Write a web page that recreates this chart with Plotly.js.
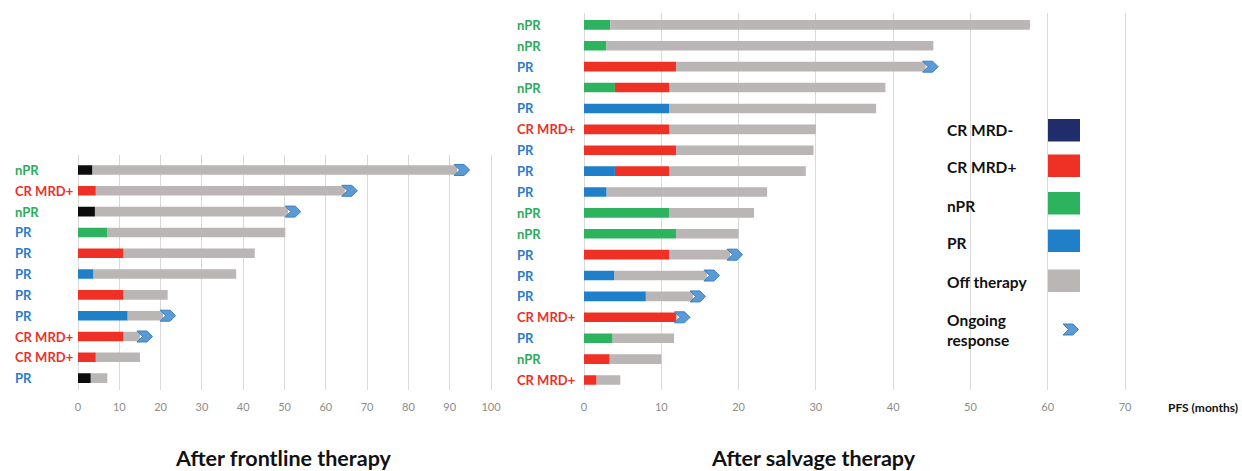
<!DOCTYPE html>
<html><head><meta charset="utf-8">
<script src="https://cdn.plot.ly/plotly-3.0.1.min.js"></script>
<style>html,body{margin:0;padding:0;background:#fff}#chart{width:1242px;height:471px}</style>
</head><body><div id="chart"></div>
<script>
// ---------- Data: After frontline therapy (top to bottom) ----------
const frontLabels   = ['nPR','CR MRD+','nPR','PR','PR','PR','PR','PR','CR MRD+','CR MRD+','PR'];
const frontStatus1  = ['Black','CR MRD+','Black','nPR','CR MRD+','PR','CR MRD+','PR','CR MRD+','CR MRD+','Black'];
const frontEnd1     = [3.5, 4.3, 4.1, 7.1, 11, 3.7, 11, 12, 11, 4.3, 3.1];
const frontStatus2  = [null,null,null,null,null,null,null,null,null,null,null];
const frontEnd2     = [null,null,null,null,null,null,null,null,null,null,null];
const frontPFS      = [91.8, 64.6, 50.9, 50.2, 42.8, 38.3, 21.7, 20.6, 15.0, 15.0, 7.1];
const frontOngoing  = [true,true,true,false,false,false,false,true,true,false,false];

// ---------- Data: After salvage therapy (top to bottom) ----------
const salvLabels    = ['nPR','nPR','PR','nPR','PR','CR MRD+','PR','PR','PR','nPR','nPR','PR','PR','PR','CR MRD+','PR','nPR','CR MRD+'];
const salvStatus1   = ['nPR','nPR','CR MRD+','nPR','PR','CR MRD+','CR MRD+','PR','PR','nPR','nPR','CR MRD+','PR','PR','CR MRD+','nPR','CR MRD+','CR MRD+'];
const salvEnd1      = [3.4, 2.9, 11.9, 4.0, 11, 11, 11.9, 4.0, 2.9, 11, 11.9, 11, 3.9, 8.0, 11.9, 3.7, 3.3, 1.6];
const salvStatus2   = [null,null,null,'CR MRD+',null,null,null,'CR MRD+',null,null,null,null,null,null,null,null,null,null];
const salvEnd2      = [null,null,null,11.0,null,null,null,11.0,null,null,null,null,null,null,null,null,null,null];
const salvPFS       = [57.7, 45.2, 44.2, 39.0, 37.8, 30.0, 29.7, 28.7, 23.7, 22.0, 20.0, 18.9, 15.9, 14.1, 12.1, 11.65, 10.0, 4.7];
const salvOngoing   = [false,false,true,false,false,false,false,false,false,false,false,true,true,true,true,false,false,false];

// ---------- Ticks / legend ----------
const frontTicks = [0,10,20,30,40,50,60,70,80,90,100];
const salvTicks  = [0,10,20,30,40,50,60,70];
const legendLabels = ['CR MRD-','CR MRD+','nPR','PR','Off therapy'];
const statusColors = {
  'Black':'#0c0c0c',
  'CR MRD-':'#1f2e6b',
  'CR MRD+':'#ee3124',
  'nPR':'#2db35e',
  'PR':'#1f80c9',
  'Off therapy':'#bab6b5'
};
const labelColors = {'nPR':'#2aab5a','CR MRD+':'#e8322b','PR':'#2a7ccc'};
const arrowFill = '#5b9bd5', arrowLine = '#3d7fc0';

// ---------- Build ----------
const W = 1242, H = 471;
const px = v => v / W;
const py = v => 1 - v / H;
const FONT = 'Lato, "Open Sans", sans-serif';

function buildTraces(s1, e1, s2, e2, pfs, xa, ya) {
  const seg = {};
  const add = (st, row, b, l) => {
    if (!seg[st]) seg[st] = {y:[], base:[], x:[]};
    seg[st].y.push(row); seg[st].base.push(b); seg[st].x.push(l);
  };
  for (let i = 0; i < s1.length; i++) {
    add(s1[i], i, 0, e1[i]);
    let last = e1[i];
    if (s2[i]) { add(s2[i], i, e1[i], e2[i] - e1[i]); last = e2[i]; }
    add('Off therapy', i, last, pfs[i] - last);
  }
  return Object.keys(seg).map(st => ({
    type:'bar', orientation:'h', xaxis:xa, yaxis:ya,
    y:seg[st].y, base:seg[st].base, x:seg[st].x, width:0.46,
    marker:{color:statusColors[st], line:{width:0}},
    hoverinfo:'skip', showlegend:false
  }));
}

const traces = [
  ...buildTraces(frontStatus1, frontEnd1, frontStatus2, frontEnd2, frontPFS, 'x', 'y'),
  ...buildTraces(salvStatus1, salvEnd1, salvStatus2, salvEnd2, salvPFS, 'x2', 'y2')
];

const arrowPath = 'M-3,-5.5 L7,-5.5 L12.5,0 L7,5.5 L-3,5.5 L2.5,0 Z';
const shapes = [];
function addArrows(pfs, ongoing, xr, yr) {
  pfs.forEach((v, i) => {
    if (!ongoing[i]) return;
    shapes.push({type:'path', xref:xr, yref:yr, xsizemode:'pixel', ysizemode:'pixel',
      xanchor:v, yanchor:i, path:arrowPath, fillcolor:arrowFill, line:{color:arrowLine, width:1}});
  });
}
addArrows(frontPFS, frontOngoing, 'x', 'y');
addArrows(salvPFS, salvOngoing, 'x2', 'y2');

// legend swatches
const swTop = [119, 154.5, 192, 229.5, 269.5];
legendLabels.forEach((lab, k) => {
  shapes.push({type:'rect', xref:'paper', yref:'paper', x0:px(1048), x1:px(1080),
    y0:py(swTop[k] + 22.5), y1:py(swTop[k]), fillcolor:statusColors[lab], line:{width:0}});
});
shapes.push({type:'path', xref:'paper', yref:'paper', xsizemode:'pixel', ysizemode:'pixel',
  xanchor:px(1066), yanchor:py(329.5), path:arrowPath, fillcolor:arrowFill, line:{color:arrowLine, width:1}});

const annotations = [];
function addRowLabels(labels, xPix, yr) {
  labels.forEach((lab, i) => annotations.push({
    xref:'paper', yref:yr, x:px(xPix), y:i, xanchor:'left', yanchor:'middle', showarrow:false,
    text:lab, font:{family:FONT, size:13, weight:700, color:labelColors[lab]}
  }));
}
addRowLabels(frontLabels, 13, 'y');
addRowLabels(salvLabels, 515, 'y2');

const legendTextY = [130, 167, 205.5, 243, 281.5];
legendLabels.forEach((lab, k) => annotations.push({
  xref:'paper', yref:'paper', x:px(945), y:py(legendTextY[k]), xanchor:'left', yanchor:'middle',
  showarrow:false, text:lab, font:{family:FONT, size:15.5, weight:700, color:'#111'}
}));
annotations.push({xref:'paper', yref:'paper', x:px(945), y:py(330), xanchor:'left', yanchor:'middle',
  showarrow:false, align:'left', text:'Ongoing<br>response', font:{family:FONT, size:15.5, weight:700, color:'#111'}});

annotations.push({xref:'paper', yref:'paper', x:px(283), y:py(458), xanchor:'center', yanchor:'middle',
  showarrow:false, text:'After frontline therapy', font:{family:FONT, size:21.5, weight:700, color:'#111'}});
annotations.push({xref:'paper', yref:'paper', x:px(813), y:py(458), xanchor:'center', yanchor:'middle',
  showarrow:false, text:'After salvage therapy', font:{family:FONT, size:21.5, weight:700, color:'#111'}});
annotations.push({xref:'paper', yref:'paper', x:px(1166), y:py(407), xanchor:'left', yanchor:'middle',
  showarrow:false, text:'PFS (months)', font:{family:FONT, size:12, weight:700, color:'#111'}});

const xCommon = {
  showgrid:true, gridcolor:'#d9d9d9', gridwidth:1, zeroline:false, showline:false,
  ticks:'outside', ticklen:7, tickcolor:'rgba(0,0,0,0)',
  tickfont:{family:FONT, size:11, color:'#8c8c8c'}, fixedrange:true
};
const yCommon = {showgrid:false, zeroline:false, showline:false, showticklabels:false, ticks:'', fixedrange:true};

const layout = {
  width:W, height:H, margin:{l:0, r:0, t:0, b:0},
  paper_bgcolor:'#ffffff', plot_bgcolor:'rgba(0,0,0,0)',
  barmode:'overlay', showlegend:false,
  xaxis:Object.assign({}, xCommon, {domain:[px(78 - 4.13), px(491 + 4.13)], range:[-1, 101],
    tickmode:'array', tickvals:frontTicks, anchor:'y'}),
  yaxis:Object.assign({}, yCommon, {domain:[py(390), py(155)], range:[10.57, -0.72], anchor:'x'}),
  xaxis2:Object.assign({}, xCommon, {domain:[px(584 - 7.73), px(1125 + 7.73)], range:[-1, 71],
    tickmode:'array', tickvals:salvTicks, anchor:'y2'}),
  yaxis2:Object.assign({}, yCommon, {domain:[py(390), py(13)], range:[17.48, -0.57], anchor:'x2'}),
  shapes:shapes, annotations:annotations
};

Plotly.newPlot('chart', traces, layout, {displayModeBar:false, staticPlot:true});
</script></body></html>
